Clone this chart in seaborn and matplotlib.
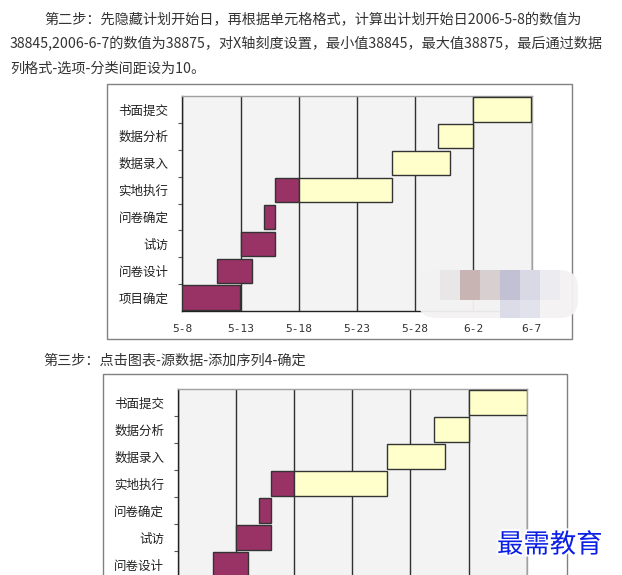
import numpy as np
import pandas as pd
import matplotlib
matplotlib.use('Agg')
import matplotlib.pyplot as plt
import matplotlib.patheffects as pe
from matplotlib.patches import Rectangle, FancyBboxPatch
import seaborn as sns

# ---- data (Excel serial dates: 38845 = 2006-5-8, 38875 = 2006-6-7) ----
tasks = ['书面提交', '数据分析', '数据录入', '实地执行', '问卷确定', '试访', '问卷设计', '项目确定']
start_serial = [38870, 38867, 38863, 38853, 38852, 38850, 38848, 38845]
done_days = [0, 0, 0, 2, 1, 3, 3, 5]
remain_days = [5, 3, 5, 8, 0, 0, 0, 0]
x_min, x_max, x_step = 38845, 38875, 5
tick_labels = ['5-8', '5-13', '5-18', '5-23', '5-28', '6-2', '6-7']

line1 = '第二步：先隐藏计划开始日，再根据单元格格式，计算出计划开始日2006-5-8的数值为'
line2 = '38845,2006-6-7的数值为38875，对X轴刻度设置，最小值38845，最大值38875，最后通过数据'
line3 = '列格式-选项-分类间距设为10。'
line4 = '第三步：点击图表-源数据-添加序列4-确定'
watermark = '最需教育'

sns.set_style('white')
plt.rcParams['font.family'] = ['Noto Sans CJK SC', 'DejaVu Sans']

PURPLE = '#993366'
YELLOW = '#ffffcc'
W, H = 622, 575

df = pd.DataFrame({'task': tasks, 'start': start_serial,
                   'done': done_days, 'remain': remain_days})

fig = plt.figure(figsize=(W / 100, H / 100), dpi=100)
fig.patch.set_facecolor('white')


def px(x, y):
    return x / W, 1 - y / H


def gantt(ax, show_xlabels=True):
    for col, color in [('done', PURPLE), ('remain', YELLOW)]:
        sub = df[df[col] > 0]
        n0 = len(ax.patches)
        sns.barplot(data=sub, x=col, y='task', order=tasks, orient='h',
                    color=color, saturation=1, width=0.9, errorbar=None,
                    edgecolor='#333333', linewidth=1, ax=ax, zorder=3)
        lefts = sub['start'] + (sub['done'] if col == 'remain' else 0)
        for p, left in zip(ax.patches[n0:], lefts):
            p.set_x(left)
    ax.set_xlim(x_min, x_max)
    ax.set_ylim(len(tasks) - 0.5, -0.5)
    ax.set_facecolor('#f3f3f3')
    ax.set_xticks(np.arange(x_min, x_max + 1, x_step))
    if show_xlabels:
        ax.set_xticklabels(tick_labels, family='DejaVu Sans Mono', fontsize=8, color='#333333')
    else:
        # the second chart's axis labels lie below the page edge
        ax.set_xticklabels([])
    ax.tick_params(axis='x', length=0, pad=9)
    ax.tick_params(axis='y', which='major', length=0, pad=10, labelsize=9, labelcolor='#222222')
    ax.set_yticks(np.arange(0.5, len(tasks) - 1, 1), minor=True)
    ax.tick_params(axis='y', which='minor', length=3, width=0.8, color='#555555', direction='out', left=True)
    ax.grid(axis='x', color='#303030', lw=1)
    ax.set_axisbelow(True)
    ax.set_xlabel('')
    ax.set_ylabel('')
    for s in ['left', 'bottom']:
        ax.spines[s].set_color('#222222')
        ax.spines[s].set_linewidth(1)
    for s in ['top', 'right']:
        ax.spines[s].set_color('#a0a0a0')
        ax.spines[s].set_linewidth(1)


# chart frames
for (fx, fy, fw, fh) in [(107, 339, 465, 255), (103, 629, 464, 255)]:
    x0, y0 = px(fx, fy)
    fig.add_artist(Rectangle((x0, y0), fw / W, fh / H, transform=fig.transFigure,
                             facecolor='white', edgecolor='#808080', lw=1, zorder=-1))

ax1 = fig.add_axes([182.3 / W, 1 - 311 / H, 349.2 / W, 215 / H])
gantt(ax1)
ax2 = fig.add_axes([178 / W, 1 - 605 / H, 348.7 / W, 216 / H])
gantt(ax2, show_xlabels=False)

# page text
txt = dict(fontsize=10.2, color='#333333', va='center', ha='left')
fig.text(*px(44, 20), line1, **txt)
fig.text(*px(10, 44), line2, **txt)
fig.text(*px(10, 69), line3, **txt)
fig.text(*px(43, 360), line4, **txt)

# blurred mosaic blob over the first chart
bx, by = px(418, 318)
fig.add_artist(FancyBboxPatch((bx, by), 160 / W, 48 / H, boxstyle='round,pad=0,rounding_size=0.03',
                              transform=fig.transFigure, facecolor='#f4f2f2',
                              edgecolor='none', alpha=0.95, zorder=5))
for cx, cy, c in [(440, 300, '#e8e6e6'), (460, 300, '#c9b4b4'), (480, 300, '#d8d0d0'),
                  (500, 300, '#c2c1d4'), (520, 300, '#d9d9e6'), (540, 300, '#ececf0'),
                  (500, 318, '#dcdce8'), (520, 318, '#e2e2ec')]:
    rx, ry = px(cx, cy)
    fig.add_artist(Rectangle((rx, ry), 20 / W, 30 / H if cy == 300 else 18 / H,
                             transform=fig.transFigure, facecolor=c, edgecolor='none', zorder=6))

fig.text(*px(497, 545), watermark, fontsize=19, color='#0a1ee6', va='center', ha='left',
         path_effects=[pe.withStroke(linewidth=3, foreground='white')], zorder=10)

fig.savefig('out.png', dpi=100)
